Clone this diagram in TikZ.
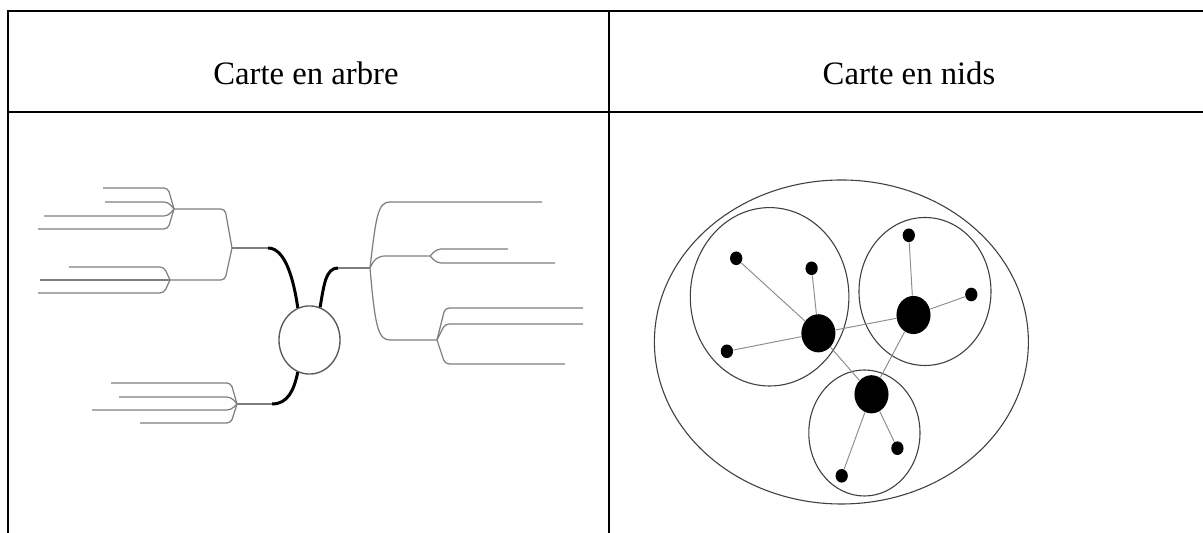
\documentclass[tikz,border=0pt]{standalone}
\usepackage{fontspec}
\setmainfont{Liberation Serif}
\usetikzlibrary{shapes.geometric}

\definecolor{branchgray}{RGB}{125,128,122}
\definecolor{linkgray}{RGB}{140,140,140}

\begin{document}
\begin{tikzpicture}[
        x=0.367pt, y=-0.367pt,
        cell/.style={line width=0.75pt},
        title/.style={font=\fontsize{12}{14}\selectfont, anchor=base},
        branch/.style={draw=branchgray, line width=0.45pt, rounded corners=1.5pt},
        trunk/.style={draw=black, line width=1.1pt},
        hub/.style={ellipse, fill=black, inner sep=0pt, minimum width=12.5pt, minimum height=14pt},
        leaf/.style={ellipse, fill=black, inner sep=0pt, minimum width=4.5pt, minimum height=5pt},
        link/.style={draw=linkgray, line width=0.35pt},
        nest/.style={draw=black!75, line width=0.4pt}
    ]
    \useasboundingbox (0,0) rectangle (1203,533);

    \draw [cell] (8,533) -- (8,11) -- (1203,11);
    \draw [cell] (8,112) -- (1203,112);
    \draw [cell] (609,11) -- (609,533);

    \node (ttree) [title] at (306,85) {Carte en arbre};
    \node (tnest) [title] at (909,85) {Carte en nids};

    \node (root) [ellipse, draw=black!65, line width=0.5pt, inner sep=0pt, minimum width=22.4pt, minimum height=25pt] at (309.5,340) {};

    \coordinate (jl) at (232,248);
    \coordinate (jlu) at (174,209);
    \coordinate (jld) at (170,280);
    \coordinate (jb) at (237,404);
    \coordinate (jr) at (370,268);
    \coordinate (jrm) at (430,256);
    \coordinate (jrd) at (437,340);

    \draw [trunk] (root.110) .. controls (294,282) and (286,248) .. (268,248);
    \draw [branch] (268,248) -- (jl);
    \draw [trunk] (root.72) .. controls (324,284) and (326,268) .. (338,268);
    \draw [branch] (338,268) -- (jr);
    \draw [trunk] (root.250) .. controls (294,390) and (288,404) .. (272,404);
    \draw [branch] (272,404) -- (jb);

    \draw [branch] (jl) -- (225,209) -- (jlu);
    \draw [branch] (jl) -- (225,280) -- (jld);
    \foreach \y/\x in {188/103, 202/105, 216/44, 229/38}
        \draw [branch] (jlu) -- (168,\y) -- (\x,\y);
    \foreach \y/\x in {267/69, 280/40, 293/38}
        \draw [branch] (jld) -- (164,\y) -- (\x,\y);
    \foreach \y/\x in {383/111, 397/119, 410/92, 423/140}
        \draw [branch] (jb) -- (231,\y) -- (\x,\y);

    \draw [branch] (jr) .. controls (376,216) and (378,202) .. (394,202) -- (542,202);
    \draw [branch] (jr) .. controls (374,259) and (378,256) .. (390,256) -- (jrm);
    \draw [branch] (jr) .. controls (375,326) and (378,340) .. (394,340) -- (jrd);
    \draw [branch] (jrm) -- (437,249) -- (508,249);
    \draw [branch] (jrm) -- (437,263) -- (555,263);
    \foreach \y/\x in {308/583, 324/583, 364/565}
        \draw [branch] (jrd) -- (445,\y) -- (\x,\y);

    \draw [nest] (841.4,342) ellipse [x radius=187, y radius=162];
    \draw [nest] (769.6,296.8) ellipse [x radius=79.3, y radius=89.2];
    \draw [nest] (925,291.5) ellipse [x radius=66, y radius=74];
    \draw [nest] (864.4,433) ellipse [x radius=55.6, y radius=63];

    \node (ahub) [hub] at (818.4,333.3) {};
    \node (bhub) [hub] at (913.5,315) {};
    \node (chub) [hub] at (871.5,394.3) {};
    \node (a1) [leaf] at (736.2,258.3) {};
    \node (a2) [leaf] at (811.6,268.3) {};
    \node (a3) [leaf] at (726.9,351.3) {};
    \node (b1) [leaf] at (908.8,235.3) {};
    \node (b2) [leaf] at (971.3,294.5) {};
    \node (c1) [leaf] at (897.4,448.2) {};
    \node (c2) [leaf] at (841.7,475.8) {};

    \foreach \a/\b in {ahub/a1, ahub/a2, ahub/a3, ahub/bhub, ahub/chub, bhub/b1, bhub/b2, bhub/chub, chub/c1, chub/c2}
        \draw [link] (\a) -- (\b);

\end{tikzpicture}
\end{document}
